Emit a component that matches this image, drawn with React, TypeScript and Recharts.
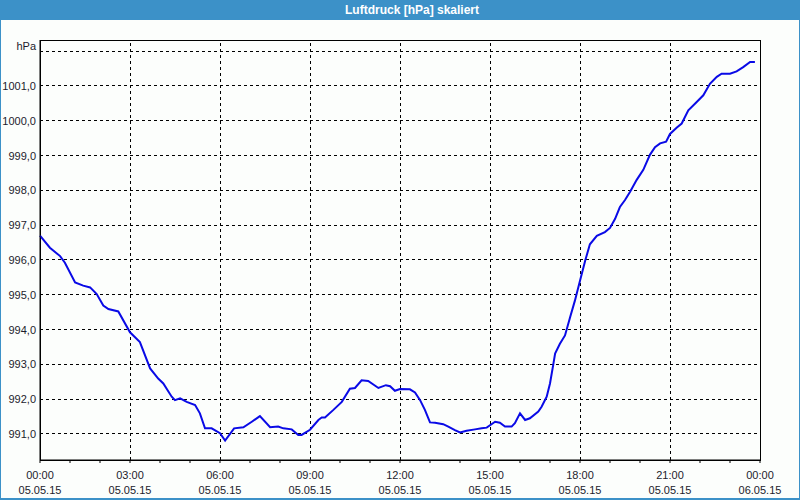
import React from "react";
import {
  CartesianGrid,
  Line,
  LineChart,
  ReferenceArea,
  ReferenceLine,
  XAxis,
  YAxis,
} from "recharts";

// hours since 05.05.15 00:00
const hours = [
  0, 0.33, 0.67, 0.83, 1.17, 1.44, 1.67, 1.89, 2.11, 2.28, 2.61, 3.0, 3.33, 3.67,
  3.94, 4.11, 4.39, 4.5, 4.67, 4.89, 5.17, 5.33, 5.5, 5.72, 6.0, 6.17, 6.47, 6.78,
  7.06, 7.33, 7.67, 7.94, 8.11, 8.39, 8.61, 8.72, 9.0, 9.28, 9.39, 9.5, 9.78,
  10.06, 10.33, 10.5, 10.72, 10.94, 11.28, 11.53, 11.67, 11.83, 12.0, 12.33, 12.5,
  12.67, 12.83, 13.0, 13.17, 13.44, 13.61, 13.83, 14.0, 14.22, 14.5, 14.72, 14.89,
  15.17, 15.33, 15.5, 15.72, 15.83, 16.0, 16.17, 16.33, 16.61, 16.72, 16.89, 17.0,
  17.11, 17.17, 17.33, 17.5, 17.67, 17.83, 18.0, 18.17, 18.33, 18.56, 18.83, 19.0,
  19.17, 19.33, 19.5, 19.67, 19.89, 20.11, 20.33, 20.5, 20.67, 20.87, 21.0, 21.22,
  21.39, 21.61, 21.89, 22.11, 22.33, 22.56, 22.72, 23.0, 23.22, 23.44, 23.67, 23.83,
];

const pressure = [
  996.7, 996.35, 996.11, 995.92, 995.35, 995.26, 995.21, 995.02, 994.69, 994.59,
  994.52, 993.92, 993.64, 992.88, 992.59, 992.45, 992.07, 991.97, 992.02, 991.92,
  991.83, 991.59, 991.16, 991.16, 991.02, 990.81, 991.16, 991.19, 991.35, 991.51,
  991.19, 991.21, 991.16, 991.13, 990.97, 990.97, 991.12, 991.4, 991.47, 991.47,
  991.69, 991.92, 992.3, 992.32, 992.54, 992.52, 992.32, 992.4, 992.37, 992.24,
  992.29, 992.28, 992.19, 991.97, 991.69, 991.33, 991.32, 991.28, 991.21, 991.11,
  991.04, 991.09, 991.13, 991.16, 991.18, 991.35, 991.32, 991.21, 991.21, 991.31,
  991.59, 991.4, 991.45, 991.64, 991.78, 992.07, 992.45, 993.0, 993.31, 993.59,
  993.83, 994.35, 994.83, 995.4, 995.97, 996.45, 996.69, 996.8, 996.92, 997.18,
  997.52, 997.72, 997.96, 998.3, 998.59, 999.02, 999.24, 999.35, 999.4, 999.62,
  999.8, 999.92, 1000.3, 1000.54, 1000.73, 1001.06, 1001.26, 1001.35, 1001.35,
  1001.42, 1001.54, 1001.69, 1001.69,
];

const hourTicks = Array.from({ length: 25 }, (_, i) => i);
const gridHours = [3, 6, 9, 12, 15, 18, 21];
const timeLabels: Record<number, [string, string]> = {
  0: ["00:00", "05.05.15"],
  3: ["03:00", "05.05.15"],
  6: ["06:00", "05.05.15"],
  9: ["09:00", "05.05.15"],
  12: ["12:00", "05.05.15"],
  15: ["15:00", "05.05.15"],
  18: ["18:00", "05.05.15"],
  21: ["21:00", "05.05.15"],
  24: ["00:00", "06.05.15"],
};
const yTicks = [991, 992, 993, 994, 995, 996, 997, 998, 999, 1000, 1001, 1002];
const yMin = 990.25;
const yMax = 1002.32;

const data = hours.map((h, i) => ({ h, p: pressure[i] }));

const FONT = "'Liberation Sans', Arial, sans-serif";
const TEXT = "#1c1c2c";
const BLUE = "#3c91c8";

function TimeTick(props: any) {
  const { x, y, payload } = props;
  const lbl = timeLabels[payload.value];
  if (!lbl) return null;
  return (
    <text x={x} y={y} textAnchor="middle" fontSize={11} fontFamily={FONT} fill={TEXT}>
      <tspan x={x} dy={16}>{lbl[0]}</tspan>
      <tspan x={x} dy={15}>{lbl[1]}</tspan>
    </text>
  );
}

function PressureTick(props: any) {
  const { x, y, payload } = props;
  const isTop = payload.value === 1002;
  return (
    <text
      x={x}
      y={isTop ? y - 5 : y}
      dy={4}
      textAnchor="end"
      fontSize={11}
      fontFamily={FONT}
      fill={TEXT}
    >
      {isTop ? "hPa" : payload.value.toFixed(1).replace(".", ",")}
    </text>
  );
}

export default function App() {
  return (
    <div
      style={{
        position: "fixed",
        left: 0,
        top: 0,
        width: 800,
        height: 500,
        background: "#fcfefc",
        boxShadow: `inset 1px 0 0 ${BLUE}, inset -1px 0 0 ${BLUE}, inset 0 -2px 0 ${BLUE}`,
      }}
    >
      <div
        style={{
          height: 20,
          background: BLUE,
          color: "#fff",
          fontFamily: FONT,
          fontWeight: "bold",
          fontSize: 12,
          lineHeight: "20px",
          textAlign: "center",
          paddingLeft: 24,
        }}
      >
        Luftdruck [hPa] skaliert
      </div>
      <div style={{ position: "absolute", left: 0, top: 20 }}>
        <LineChart
          width={800}
          height={480}
          data={data}
          margin={{ top: 20, right: 40, bottom: 0, left: 0 }}
        >
          <CartesianGrid
            vertical={false}
            stroke="#000"
            strokeDasharray="3 3"
            shapeRendering="crispEdges"
          />
          {gridHours.map((h) => (
            <ReferenceLine
              key={h}
              x={h}
              stroke="#000"
              strokeDasharray="3 3"
              shapeRendering="crispEdges"
            />
          ))}
          <XAxis
            dataKey="h"
            type="number"
            domain={[0, 24]}
            ticks={hourTicks}
            interval={0}
            height={40}
            tickSize={3}
            tickMargin={0}
            stroke="#000"
            axisLine={{ stroke: "#000" }}
            tickLine={{ stroke: "#000" }}
            tick={<TimeTick />}
          />
          <YAxis
            type="number"
            domain={[yMin, yMax]}
            ticks={yTicks}
            interval={0}
            allowDataOverflow
            width={40}
            tickSize={0}
            tickMargin={4}
            axisLine={{ stroke: "#000" }}
            tickLine={false}
            tick={<PressureTick />}
          />
          <ReferenceArea
            x1={0}
            x2={24}
            y1={yMin}
            y2={yMax}
            fill="none"
            fillOpacity={0}
            stroke="#000"
            strokeWidth={1}
            shapeRendering="crispEdges"
          />
          <Line
            type="linear"
            dataKey="p"
            stroke="#0a0ae6"
            strokeWidth={2}
            dot={false}
            activeDot={false}
            isAnimationActive={false}
          />
        </LineChart>
      </div>
    </div>
  );
}
